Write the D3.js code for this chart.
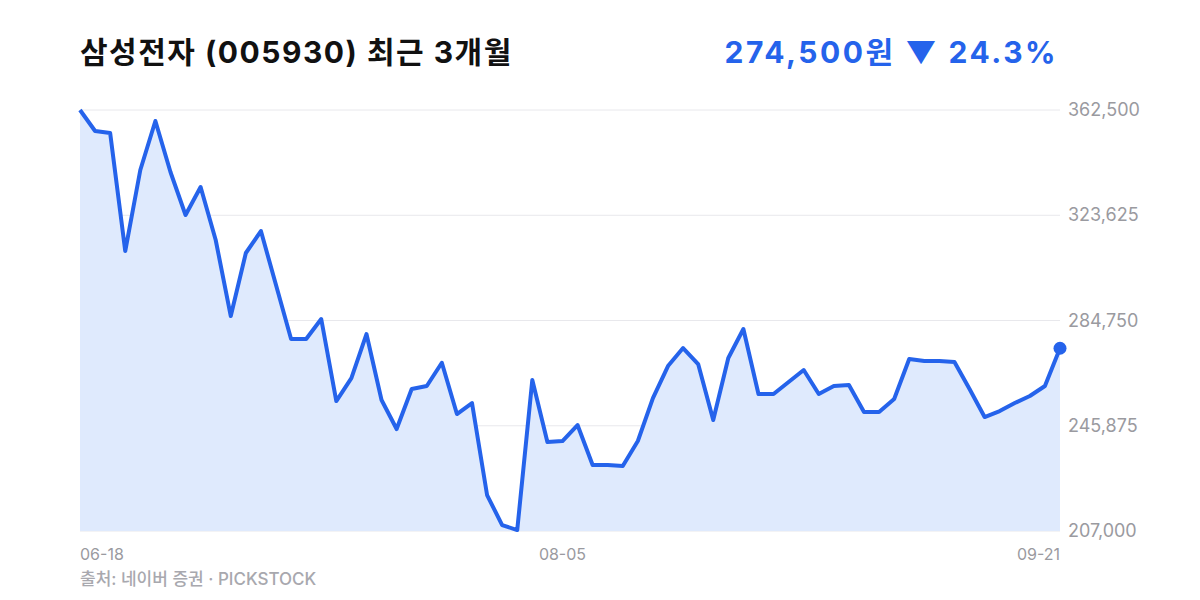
<html>
<script src="https://d3js.org/d3.v7.min.js"></script>
<style>
body { margin: 0; background: #fff; }
text { font-family: Inter, "Noto Sans CJK KR", sans-serif; }
</style>
<body>
<svg width="1200" height="600"></svg>
<script>
const title = "삼성전자 (005930) 최근 3개월";
const priceLabel = "274,500원 ▼ 24.3%";
const source = "출처: 네이버 증권 · PICKSTOCK";
const prices = [362500,354740,354000,310410,340340,358440,339600,323710,334060,314480,
  286400,309680,317800,297850,277910,277910,285300,255000,263500,279750,
  255370,244660,259440,260550,269150,250200,254270,220280,209200,207350,
  262760,239860,240230,246140,231360,231360,231000,240230,256110,267930,
  274580,268670,247990,270890,281600,257590,257590,262020,266460,257590,
  260550,260920,250940,250940,255740,270520,269780,269780,269410,259440,
  249100,251310,254270,256860,260550,274500];
const xTickIndex = [0, 32, 65];
const xTickLabels = ["06-18", "08-05", "09-21"];
const yTicks = [207000, 245875, 284750, 323625, 362500];

const svg = d3.select("svg");
const x = d3.scaleLinear().domain([0, prices.length - 1]).range([80, 1060]);
const y = d3.scaleLinear().domain([207000, 362500]).range([531, 110]);
const blue = "#2563eb";

svg.selectAll(".grid").data(yTicks).enter().append("line")
  .attr("x1", 80).attr("x2", 1060)
  .attr("y1", d => y(d)).attr("y2", d => y(d))
  .attr("stroke", "#e8e8ec").attr("stroke-width", 1);

svg.append("path").datum(prices)
  .attr("d", d3.area().x((d, i) => x(i)).y0(y(207000)).y1(d => y(d)))
  .attr("fill", "#dfeafd");

svg.append("path").datum(prices)
  .attr("d", d3.line().x((d, i) => x(i)).y(d => y(d)))
  .attr("fill", "none").attr("stroke", blue).attr("stroke-width", 4)
  .attr("stroke-linejoin", "round");

svg.append("circle")
  .attr("cx", x(prices.length - 1)).attr("cy", y(prices[prices.length - 1]))
  .attr("r", 6.5).attr("fill", blue);

svg.selectAll(".yl").data(yTicks).enter().append("text")
  .attr("x", 1068).attr("y", d => y(d) + 6)
  .attr("font-size", 18).attr("fill", "#9a9aa0")
  .text(d => d3.format(",")(d));

svg.selectAll(".xl").data(xTickIndex).enter().append("text")
  .attr("x", d => x(d)).attr("y", 560)
  .attr("text-anchor", (d, i) => i === 0 ? "start" : i === 2 ? "end" : "middle")
  .attr("font-size", 16).attr("fill", "#9a9aa0")
  .text((d, i) => xTickLabels[i]);

svg.append("text").attr("x", 80).attr("y", 63)
  .attr("font-size", 30).attr("font-weight", 700).attr("fill", "#111")
  .attr("letter-spacing", 1.5)
  .text(title);

svg.append("text").attr("x", 1058).attr("y", 63).attr("text-anchor", "end")
  .attr("font-size", 30).attr("font-weight", 700).attr("fill", blue)
  .attr("letter-spacing", 2.5)
  .text(priceLabel);

svg.append("text").attr("x", 80).attr("y", 585)
  .attr("font-size", 17).attr("font-weight", 500).attr("fill", "#a8a8ae")
  .text(source);
</script>
</body>
</html>
